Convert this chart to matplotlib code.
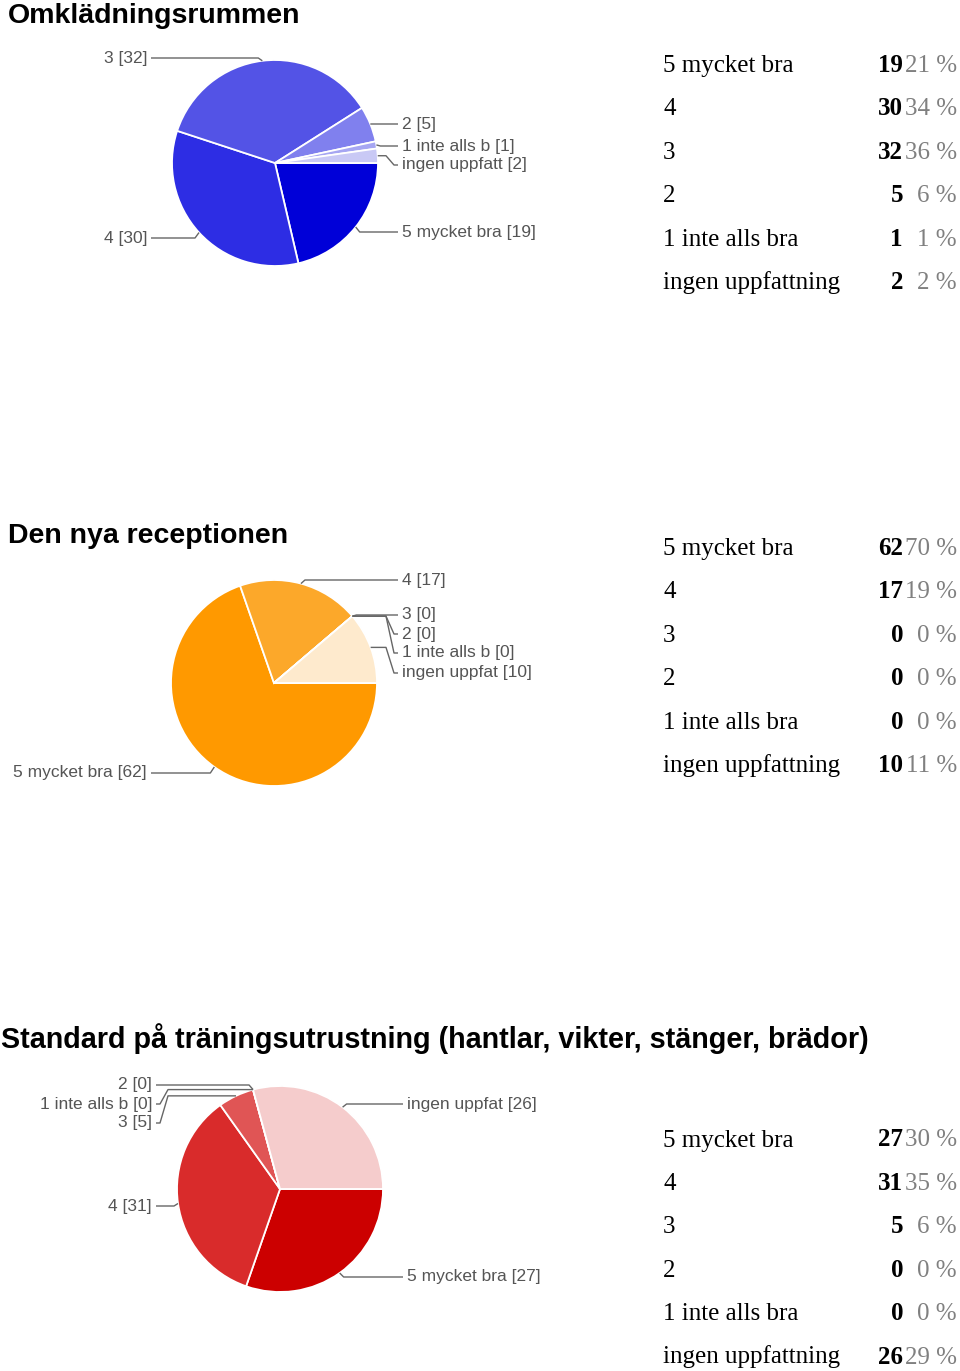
import numpy as np
import matplotlib
matplotlib.use('Agg')
import matplotlib.pyplot as plt
from matplotlib import font_manager

# answer options (same for all three questions)
options = ['5 mycket bra', '4', '3', '2', '1 inte alls bra', 'ingen uppfattning']

titles = ['Omklädningsrummen',
          'Den nya receptionen',
          'Standard på träningsutrustning (hantlar, vikter, stänger, brädor)']

# shortened names used next to the pies
pie_names_1 = ['5 mycket bra', '4', '3', '2', '1 inte alls b', 'ingen uppfatt']
pie_names_2 = ['5 mycket bra', '4', '3', '2', '1 inte alls b', 'ingen uppfat']
pie_names_3 = ['5 mycket bra', '4', '3', '2', '1 inte alls b', 'ingen uppfat']

counts_1 = [19, 30, 32, 5, 1, 2]
pct_1 = [21, 34, 36, 6, 1, 2]
counts_2 = [62, 17, 0, 0, 0, 10]
pct_2 = [70, 19, 0, 0, 0, 11]
counts_3 = [27, 31, 5, 0, 0, 26]
pct_3 = [30, 35, 6, 0, 0, 29]

colors_1 = ['#0000d8', '#2d2de4', '#5353e6', '#8080ee', '#a6a6f2', '#c9c9f5']
colors_2 = ['#ff9900', '#fca82a', '#fdbb5e', '#fdcf8f', '#fde0b5', '#feeacd']
colors_3 = ['#cc0000', '#d92b2b', '#e05555', '#e88080', '#efaaaa', '#f5cccc']

W, H = 960, 1371
fig = plt.figure(figsize=(W / 100, H / 100), dpi=100)
ax = fig.add_axes([0, 0, 1, 1])

# layout of each block: title, pie and label placement, table rows
blocks = [
    dict(title_x=8, title_y=23, center=(275, 163),
         left=[False, True, True, False, False, False],
         label_y=[232, 238, 58, 124, 146, 165], left_x=147, right_x=402,
         table_y=72, names=pie_names_1, counts=counts_1, pct=pct_1, colors=colors_1),
    dict(title_x=8, title_y=543, center=(274, 683),
         left=[True, False, False, False, False, False],
         label_y=[773, 580, 615, 634, 653, 673], left_x=147, right_x=402,
         table_y=555, names=pie_names_2, counts=counts_2, pct=pct_2, colors=colors_2),
    dict(title_x=1, title_y=1048, center=(280, 1189),
         left=[False, True, True, True, True, False],
         label_y=[1277, 1206, 1123, 1085, 1104, 1104], left_x=152, right_x=407,
         table_y=1146.5, names=pie_names_3, counts=counts_3, pct=pct_3, colors=colors_3),
]
radius = 103
row_step = 43.4

font_names = {f.name for f in font_manager.fontManager.ttflist}
narrow = 'Liberation Sans Narrow' if 'Liberation Sans Narrow' in font_names else 'Liberation Sans'

title_texts = []
for i, b in enumerate(blocks):
    fam = narrow if i == 2 else 'Liberation Sans'
    t = ax.text(b['title_x'], b['title_y'], titles[i], fontsize=20.5, fontweight='bold',
                family=fam, color='black', ha='left', va='baseline')
    title_texts.append(t)

    # pie, clockwise from 3 o'clock (y axis is flipped, so counterclock=True)
    cx, cy = b['center']
    wedges, _ = ax.pie(b['counts'], colors=b['colors'], startangle=0, counterclock=True,
                       center=(cx, cy), radius=radius,
                       wedgeprops=dict(edgecolor='white', linewidth=1.3))

    # leader lines and labels
    for j, w in enumerate(wedges):
        mid = np.deg2rad((w.theta1 + w.theta2) / 2)
        axp = cx + radius * np.cos(mid)
        ayp = cy + radius * np.sin(mid)
        ly = b['label_y'][j]
        d = -1 if b['left'][j] else 1
        tx = b['left_x'] if d < 0 else b['right_x']
        if abs(ly - ayp) < 7:
            # small step: bend right at the pie
            xs = [axp, axp + d * 4, tx - d * 4]
            ys = [ayp, ly, ly]
        else:
            # stacked labels: run out, then bend down to the label
            knee = tx - d * 16
            xs = [axp, knee, knee + d * 8, tx - d * 4]
            ys = [ayp, ayp, ly, ly]
        ax.plot(xs, ys, color='#666666', lw=1.0, solid_capstyle='butt')
        ax.text(tx, ly, f"{b['names'][j]} [{b['counts'][j]}]", fontsize=12.5,
                family='Liberation Sans', color='#555555',
                ha='right' if d < 0 else 'left', va='center')

    # summary table
    for j, opt in enumerate(options):
        y = b['table_y'] + j * row_step
        ax.text(663, y, opt, fontsize=18, family='Liberation Serif', color='black',
                ha='left', va='baseline')
        ax.text(903, y, str(b['counts'][j]), fontsize=18, family='Liberation Serif',
                fontweight='bold', color='black', ha='right', va='baseline')
        ax.text(957, y, f"{b['pct'][j]} %", fontsize=18, family='Liberation Serif',
                color='#808080', ha='right', va='baseline')

ax.set_xlim(0, W)
ax.set_ylim(H, 0)
ax.set_aspect('equal')
ax.axis('off')

# squeeze the long third title to the width it has in the original
fig.canvas.draw()
renderer = fig.canvas.get_renderer()
bb = title_texts[2].get_window_extent(renderer)
title_texts[2].set_fontsize(title_texts[2].get_fontsize() * 866 / bb.width)

fig.savefig('out.png', dpi=100, facecolor='white')
